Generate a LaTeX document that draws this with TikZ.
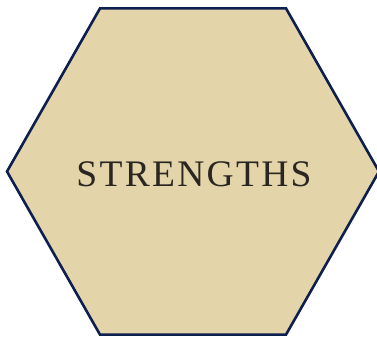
\documentclass[tikz,border=0pt]{standalone}
\usepackage{fontspec}
\setmainfont{Liberation Serif}
\definecolor{hexfill}{HTML}{E4D4A9}
\definecolor{hexline}{HTML}{0D1F4F}
\definecolor{txt}{HTML}{2A2622}
\newcommand{\ls}{\kern2.3pt}
\begin{document}
\begin{tikzpicture}[x=1pt,y=-1pt,
  hexstyle/.style={fill=hexfill,draw=hexline,line width=2.6pt,line join=miter},
  labelstyle/.style={text=txt,font=\fontsize{37.5}{40}\selectfont,inner sep=0pt}]
\useasboundingbox (0,0) rectangle (377,337);
\clip (0,0) rectangle (377,337);
\draw[hexstyle] (7,171.5) -- (100,8.4) -- (286,8.4) -- (379,171.5) -- (286,334.6) -- (100,334.6) -- cycle;
\node[labelstyle] (lab) at (194,174) {S\ls T\ls R\ls E\ls N\ls G\ls T\ls H\ls S};
\end{tikzpicture}
\end{document}
